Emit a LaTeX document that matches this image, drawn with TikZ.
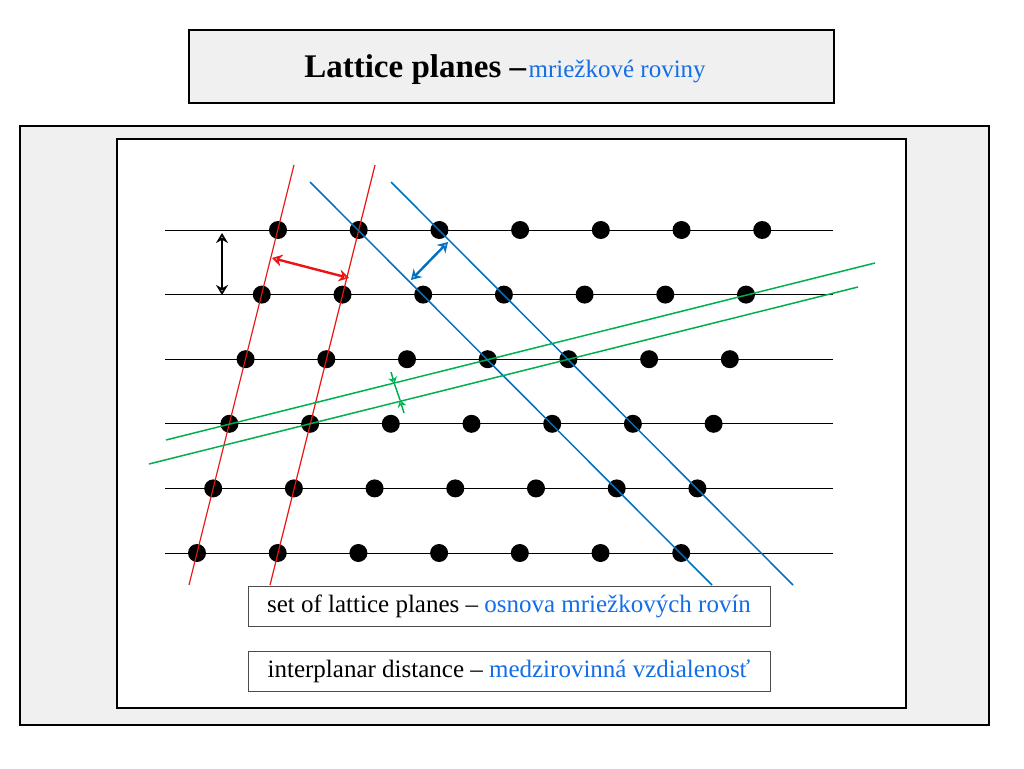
\documentclass[tikz,border=0pt]{standalone}
\usepackage{fontspec}
\setmainfont{Liberation Serif}
\usetikzlibrary{arrows.meta}
\definecolor{lblue}{RGB}{0,112,192}
\definecolor{tblue}{RGB}{20,110,230}
\definecolor{lgreen}{RGB}{0,176,80}
\definecolor{lred}{RGB}{235,20,20}
\definecolor{panel}{RGB}{240,240,240}
\tikzset{every picture/.style={line width=0.75pt}}
\tikzset{
  latline/.style={black, line width=0.9pt},
  latdot/.style={circle, fill=black, inner sep=0pt, minimum size=18pt},
  lblbox/.style={draw=black!70, fill=white, line width=0.6pt, minimum width=522pt, minimum height=40pt, font=\fontsize{25}{28}\selectfont},
  dblarrow/.style={{Stealth[open,length=10pt,width=12pt]}-{Stealth[open,length=10pt,width=12pt]}, line width=2.4pt},
}
\begin{document}
\begin{tikzpicture}[x=1pt,y=1pt,yscale=-1,xscale=1]
\useasboundingbox (0,0) rectangle (1024,768);

% frames
\draw [fill=panel, line width=2pt] (189,30) rectangle (834,103);
\node (title) at (505,70) {{\fontsize{33}{38}\selectfont\bfseries Lattice planes --}\ {\fontsize{25}{30}\selectfont\color{tblue}mriežkové roviny}};
\draw [fill=panel, line width=1.5pt] (20,126) rectangle (989,725);
\draw [fill=white, line width=1.5pt] (117,139) rectangle (906,708);

% rows of the lattice
\foreach \r in {0,...,5} {
  \pgfmathsetmacro{\yy}{230+64.6*\r}
  \draw [latline] (165,\yy) -- (833,\yy);
  \foreach \c in {0,...,6} {
    \pgfmathsetmacro{\xx}{278-16.2*\r+80.7*\c}
    \node [latdot] (d\r\c) at (\xx,\yy) {};
  }
}

% red planes
\coordinate (r1a) at (294,165); \coordinate (r1b) at (189,585);
\coordinate (r2a) at (375,165); \coordinate (r2b) at (270,585);
\draw [lred, line width=1.2pt] (r1a) -- (r1b);
\draw [lred, line width=1.2pt] (r2a) -- (r2b);

% blue planes
\coordinate (b1a) at (310,182); \coordinate (b1b) at (712,585);
\coordinate (b2a) at (391,182); \coordinate (b2b) at (793,585);
\draw [lblue, line width=1.5pt] (b1a) -- (b1b);
\draw [lblue, line width=1.5pt] (b2a) -- (b2b);

% green planes
\coordinate (g1a) at (166,440); \coordinate (g1b) at (875,263);
\coordinate (g2a) at (149,464); \coordinate (g2b) at (858,287);
\draw [lgreen, line width=1.5pt] (g1a) -- (g1b);
\draw [lgreen, line width=1.5pt] (g2a) -- (g2b);

% distances
\coordinate (k1) at (222,233); \coordinate (k2) at (222,295);
\draw [dblarrow, black] (k1) -- (k2);
\coordinate (e1) at (272,258); \coordinate (e2) at (349,278);
\draw [dblarrow, lred] (e1) -- (e2);
\coordinate (u1) at (411,280); \coordinate (u2) at (448,242);
\draw [dblarrow, lblue] (u1) -- (u2);
\coordinate (s1) at (391,372); \coordinate (s2) at (394.5,384);
\coordinate (s3) at (404,413); \coordinate (s4) at (400,400);
\draw [lgreen, line width=1.5pt, -{Stealth[open,length=7pt,width=9pt]}] (s1) -- (s2);
\draw [lgreen, line width=1.5pt, -{Stealth[open,length=7pt,width=9pt]}] (s3) -- (s4);
\draw [lgreen, line width=1.5pt] (s2) -- (s4);

% labels
\node [lblbox] (set) at (509,606.5) {set of lattice planes -- {\color{tblue}osnova mriežkových rovín}};
\node [lblbox] (dist) at (509,671) {interplanar distance -- {\color{tblue}medzirovinná vzdialenosť}};

\end{tikzpicture}
\end{document}
